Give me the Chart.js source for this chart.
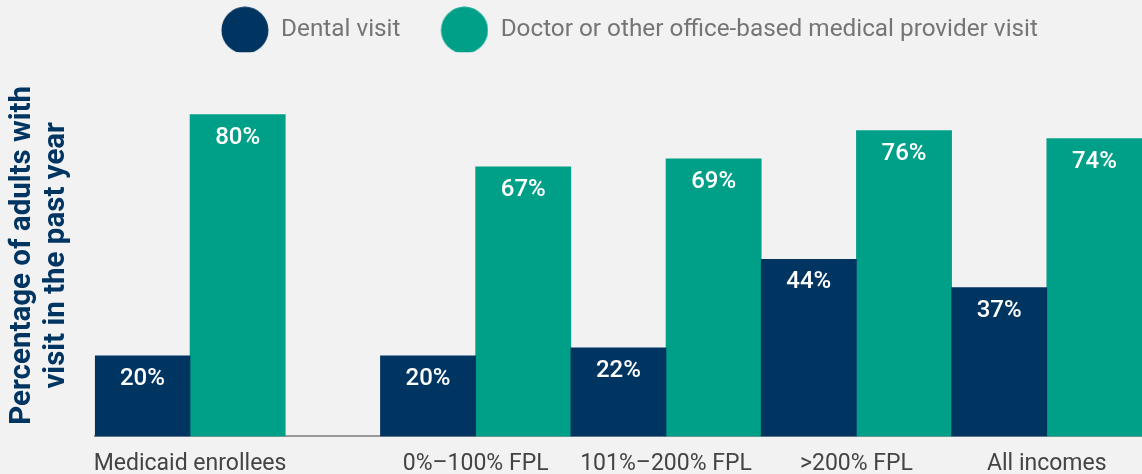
<!DOCTYPE html>
<html>
<head>
<meta charset="utf-8">
<script src="https://cdn.jsdelivr.net/npm/chart.js@4/dist/chart.umd.min.js"></script>
<style>
  html, body { margin: 0; padding: 0; background: #f2f2f2; overflow: hidden; }
  #wrap { width: 1142px; height: 474px; position: relative; }
</style>
</head>
<body>
<div id="wrap"><canvas id="chart"></canvas></div>
<script>
const categories = ['Medicaid enrollees', '0%–100% FPL', '101%–200% FPL', '>200% FPL', 'All incomes'];
const dentalVisit = [20, 20, 22, 44, 37];
const doctorVisit = [80, 67, 69, 76, 74];
const seriesNames = ['Dental visit', 'Doctor or other office-based medical provider visit'];
const axisTitle = ['Percentage of adults with', 'visit in the past year'];

const NAVY = '#003562';
const TEAL = '#00a088';

// Medicaid sits apart from the income groups by half a slot
const slot = categories.map((c, i) => (i === 0 ? 0 : i + 0.5));

function legendDot(color) {
  const c = document.createElement('canvas');
  c.width = 70;
  c.height = 48;
  const g = c.getContext('2d');
  g.fillStyle = color;
  g.beginPath();
  g.arc(46, 24, 23.5, 0, Math.PI * 2);
  g.fill();
  return c;
}

const valueLabels = {
  id: 'valueLabels',
  afterDatasetsDraw(chart) {
    const ctx = chart.ctx;
    ctx.save();
    ctx.fillStyle = '#ffffff';
    ctx.font = '500 24px Roboto';
    ctx.textAlign = 'center';
    ctx.textBaseline = 'middle';
    chart.data.datasets.forEach((ds, di) => {
      chart.getDatasetMeta(di).data.forEach((bar, i) => {
        ctx.fillText(ds.data[i].y + '%', bar.x, bar.y + 23);
      });
    });
    ctx.restore();
  },
};

new Chart(document.getElementById('chart'), {
  type: 'bar',
  data: {
    datasets: [
      {
        label: seriesNames[0],
        data: dentalVisit.map((v, i) => ({ x: slot[i], y: v })),
        backgroundColor: NAVY,
        pointStyle: legendDot(NAVY),
      },
      {
        label: seriesNames[1],
        data: doctorVisit.map((v, i) => ({ x: slot[i], y: v })),
        backgroundColor: TEAL,
        pointStyle: legendDot(TEAL),
      },
    ],
  },
  options: {
    responsive: true,
    maintainAspectRatio: false,
    animation: false,
    barPercentage: 1,
    categoryPercentage: 1,
    layout: {
      padding: { left: 6, right: 0, top: 0, bottom: -18 },
    },
    scales: {
      x: {
        type: 'linear',
        min: -0.5,
        max: 5,
        offset: false,
        afterBuildTicks(scale) {
          scale.ticks = slot.map((v) => ({ value: v }));
        },
        ticks: {
          color: '#444444',
          padding: 14,
          maxRotation: 0,
          autoSkip: false,
          font: { family: 'Roboto', size: 23 },
          callback(value) {
            const i = slot.indexOf(value);
            return i >= 0 ? categories[i] : '';
          },
        },
        grid: { display: false, drawTicks: false, offset: false },
        border: { display: true, color: '#9a9a9a', width: 2 },
      },
      y: {
        min: 0,
        max: 90,
        ticks: { display: false },
        grid: { display: false, drawTicks: false },
        border: { display: false },
        title: {
          display: true,
          text: axisTitle,
          color: NAVY,
          padding: { top: 0, bottom: 21 },
          font: { family: 'Roboto', size: 29.5, weight: 'bold', lineHeight: 1.15 },
        },
      },
    },
    plugins: {
      legend: {
        position: 'top',
        fullSize: false,
        labels: {
          usePointStyle: true,
          pointStyleWidth: 70,
          padding: 18,
          color: '#757575',
          font: { family: 'Roboto', size: 24.3 },
        },
      },
      // empty spacer between the legend and the plot
      title: {
        display: true,
        text: '',
        position: 'top',
        weight: 500,
        padding: { top: 12, bottom: 0 },
        font: { size: 10, lineHeight: 1 },
      },
      tooltip: { enabled: false },
    },
    hover: { mode: null },
  },
  plugins: [valueLabels],
});
</script>
</body>
</html>
